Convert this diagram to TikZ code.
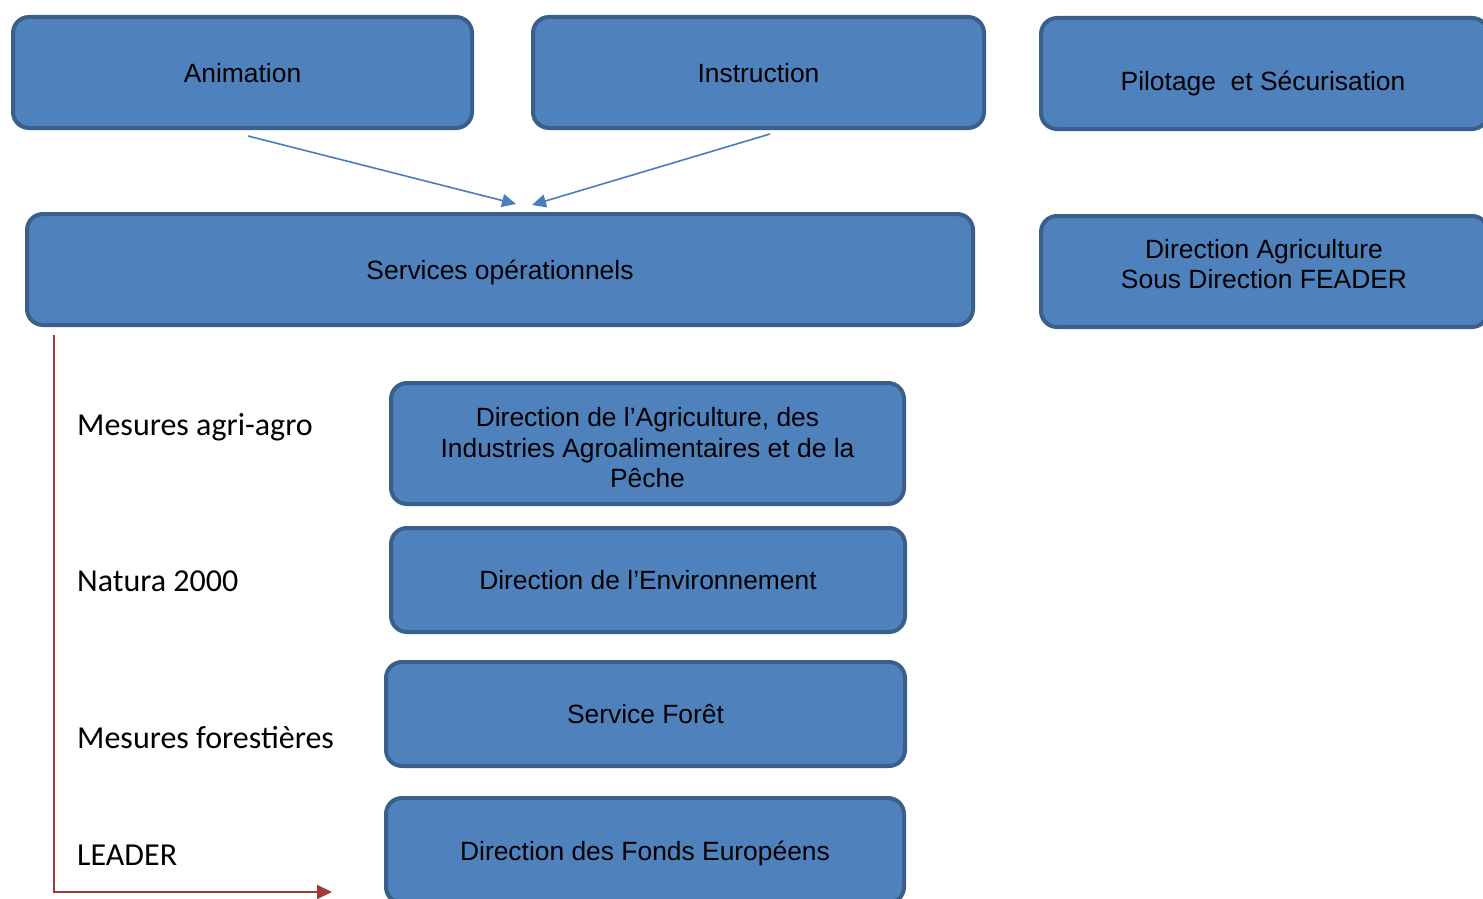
\documentclass[tikz,border=0pt]{standalone}
\usepackage{fontspec}
\setmainfont{Liberation Sans}
\newfontfamily\calib{Carlito}
\usetikzlibrary{arrows.meta}
\definecolor{boxfill}{HTML}{4F81BD}
\definecolor{boxline}{HTML}{3A5F8B}
\definecolor{bluearrow}{HTML}{4A7EBB}
\definecolor{redline}{HTML}{A33A3A}
\tikzset{
  box/.style={draw=boxline, fill=boxfill, line width=4pt, rounded corners=16pt,
    align=center, inner sep=0pt, text depth=0pt, font=\fontsize{26.4}{30.5}\selectfont},
  boxtxt/.style={align=center, inner sep=0pt, text depth=0pt, font=\fontsize{26.4}{30.5}\selectfont},
  sidelabel/.style={anchor=base west, inner sep=0pt, font=\calib\fontsize{32}{38}\selectfont},
  bluearr/.style={draw=bluearrow, line width=1.6pt, -{Triangle[length=14pt,width=13pt]}},
  redarr/.style={draw=redline, line width=1.8pt, -{Triangle[length=15pt,width=14pt]}}
}
\begin{document}
\begin{tikzpicture}[x=1pt, y=-1pt]
\useasboundingbox (0,0) rectangle (1483,899);
% top row
\node[box, minimum width=459pt, minimum height=111pt] (anim) at (242.5,72.5) {Animation};
\node[box, minimum width=451pt, minimum height=111pt] (instr) at (758.5,72.5) {Instruction};
\node[box, minimum width=447pt, minimum height=111pt] (pil) at (1264.5,73.5) {};
\node[boxtxt] (piltxt) at (1263,81) {Pilotage~ et Sécurisation};
% second row
\node[box, minimum width=946pt, minimum height=111pt] (serv) at (500,269.5) {Services opérationnels};
\node[box, minimum width=447pt, minimum height=111pt] (diragri) at (1264.5,271.5) {};
\node[boxtxt] (diragritxt) at (1264,264) {Direction Agriculture\\Sous Direction FEADER};
% lower column
\node[box, minimum width=513pt, minimum height=121pt] (daaf) at (647.5,443.5) {};
\node[boxtxt] (daaftxt) at (647.5,447.5) {Direction de l’Agriculture, des\\Industries Agroalimentaires et de la\\Pêche};
\node[box, minimum width=514pt, minimum height=104pt] (denv) at (648,580) {Direction de l’Environnement};
\node[box, minimum width=519pt, minimum height=104pt] (sforet) at (645.5,714) {Service Forêt};
\node[box, minimum width=518pt, minimum height=105pt] (dfe) at (645,850.5) {Direction des Fonds Européens};
% side labels
\node[sidelabel] (l1) at (77,435) {Mesures agri-agro};
\node[sidelabel] (l2) at (77,591) {Natura 2000};
\node[sidelabel] (l3) at (77,748) {Mesures forestières};
\node[sidelabel] (l4) at (77,865) {LEADER};
% blue arrows
\coordinate (a1s) at (248,136);
\coordinate (a1e) at (516,204);
\coordinate (a2s) at (770,134);
\coordinate (a2e) at (532,205);
\draw[bluearr] (a1s) -- (a1e);
\draw[bluearr] (a2s) -- (a2e);
% red bracket arrow
\coordinate (rtop) at (54,335);
\coordinate (rend) at (332,892);
\draw[redarr] (rtop) |- (rend);
\end{tikzpicture}
\end{document}
